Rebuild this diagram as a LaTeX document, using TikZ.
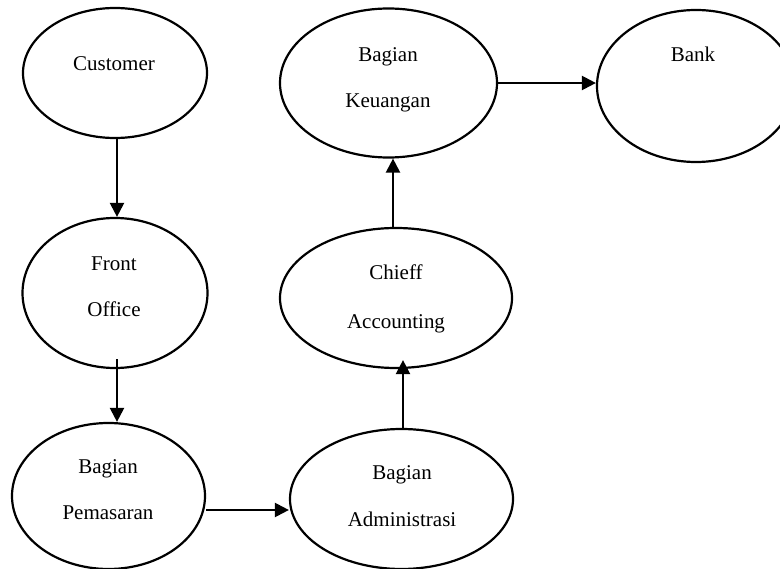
\documentclass[tikz,border=0pt]{standalone}
\usepackage{fontspec}
\setmainfont{Liberation Serif}
\usetikzlibrary{shapes.geometric,arrows.meta}
\begin{document}
\begin{tikzpicture}[x=1pt,y=-1pt,
  unit/.style={draw,ellipse,line width=2.2pt,inner sep=0pt},
  lbl/.style={anchor=base,inner sep=0pt,font=\fontsize{21pt}{25pt}\selectfont},
  arr/.style={line width=2.2pt,-{Triangle[length=14pt,width=14pt]}}]
\useasboundingbox (0,0) rectangle (780,569);
\clip (0,0) rectangle (780,569);

% process units
\node[unit,minimum width=184pt,minimum height=130pt] (cust) at (115,73) {};
\node[unit,minimum width=185pt,minimum height=150pt] (fo)   at (115,293) {};
\node[unit,minimum width=193pt,minimum height=146pt] (pem)  at (108.5,496) {};
\node[unit,minimum width=223pt,minimum height=140pt] (adm)  at (401.5,499) {};
\node[unit,minimum width=232pt,minimum height=140pt] (acc)  at (396,298) {};
\node[unit,minimum width=217pt,minimum height=149pt] (keu)  at (388.5,83) {};
\node[unit,minimum width=198pt,minimum height=152pt] (bank) at (696,86) {};

% labels
\node[lbl] (tcust) at (114,71) {Customer};
\node[lbl] (tfo1)  at (114,271) {Front};
\node[lbl] (tfo2)  at (114,317) {Office};
\node[lbl] (tpem1) at (108,474) {Bagian};
\node[lbl] (tpem2) at (108,520) {Pemasaran};
\node[lbl] (tadm1) at (402,480) {Bagian};
\node[lbl] (tadm2) at (402,526) {Administrasi};
\node[lbl] (tacc1) at (396,280) {Chieff};
\node[lbl] (tacc2) at (396,329) {Accounting};
\node[lbl] (tkeu1) at (388,62) {Bagian};
\node[lbl] (tkeu2) at (388,108) {Keuangan};
\node[lbl] (tbank) at (693,62) {Bank};

% flow
\draw[arr] ([xshift=2pt]cust.south) coordinate (s1) -- (s1 |- fo.north);
\draw[arr] ([xshift=2pt,yshift=10pt]fo.south) coordinate (s2) -- (s2 |- pem.north);
\draw[arr] ([yshift=-14pt]pem.east) coordinate (s3) -- (s3 -| adm.west);
\coordinate (acctip) at ([yshift=9pt]acc.south);
\draw[arr] ([xshift=1.5pt]adm.north) coordinate (s4) -- (s4 |- acctip);
\draw[arr] ([xshift=-3pt]acc.north) coordinate (s5) -- (s5 |- keu.south);
\draw[arr] (keu.east) coordinate (s6) -- (s6 -| bank.west);
\end{tikzpicture}
\end{document}
